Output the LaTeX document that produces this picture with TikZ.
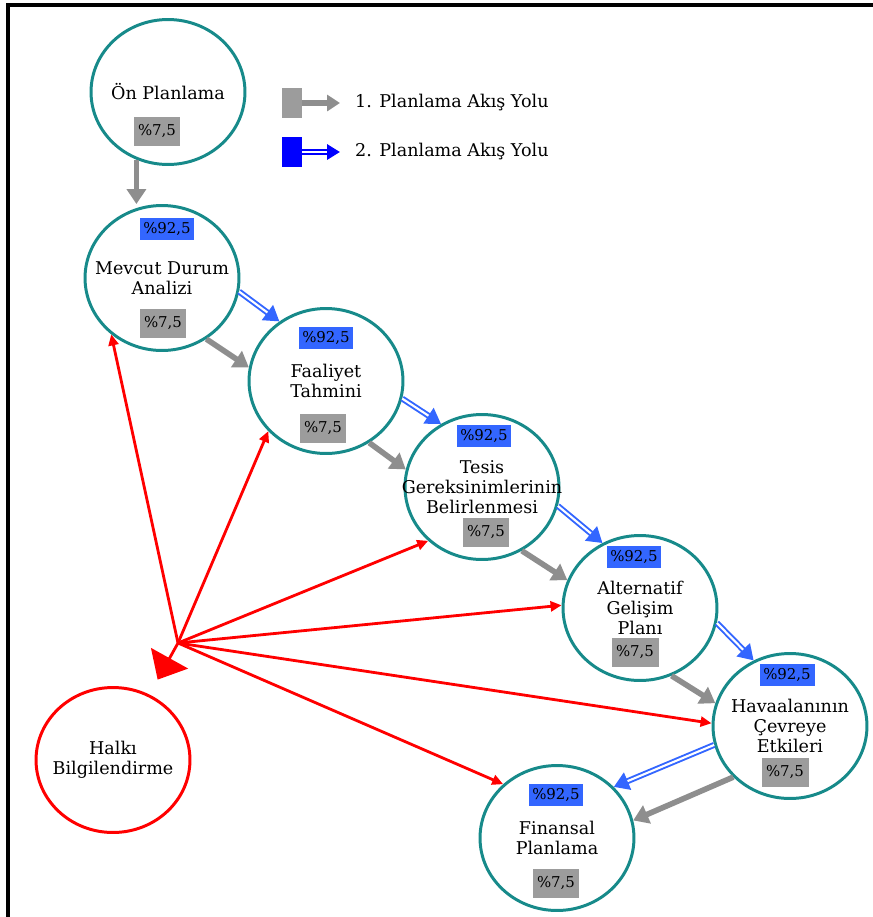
\documentclass[tikz,border=0pt]{standalone}
\usepackage{fontspec}
\setmainfont{DejaVu Serif}
\usepackage{tikz}
\usetikzlibrary{arrows.meta,positioning,shapes.geometric}
\definecolor{pteal}{HTML}{178A8A}
\definecolor{pblue}{HTML}{3366FF}
\definecolor{pgray}{HTML}{9C9C9C}
\definecolor{agray}{HTML}{8E8E8E}

\begin{document}
\begin{tikzpicture}[x=0.02cm,y=-0.02cm,font=\fontsize{10}{11.2}\selectfont,
    stage/.style={ellipse,draw=pteal,line width=1.7pt,minimum width=3.08cm,
                  minimum height=2.9cm,inner sep=0pt},
    pubstage/.style={stage,draw=red},
    lbl/.style={align=center,inner sep=0pt},
    pbox/.style={fill=pblue,minimum width=1.1cm,minimum height=0.44cm,
                 inner sep=0pt,font=\fontsize{8.5}{10}\selectfont},
    gbox/.style={fill=pgray,minimum width=0.94cm,minimum height=0.58cm,
                 inner sep=0pt,font=\fontsize{8.5}{10}\selectfont},
    gflow/.style={draw=agray,line width=3.2pt,-{Triangle[length=0.3cm,width=0.38cm]}},
    bflow/.style={draw=pblue,line width=3.4pt,-{Triangle[length=0.3cm,width=0.36cm]}},
    bgap/.style={draw=white,line width=1.2pt,shorten >=0.3cm},
    rflow/.style={draw=red,line width=1.6pt,-{Triangle[length=0.22cm,width=0.2cm]}}]
  \useasboundingbox (0,0) rectangle (873,917);
  \draw[line width=2pt] (8,917) -- (8,5) -- (873,5);

  % asamalar
  \node[stage] (onplan) at (168,92) {};
  \node[lbl] at (onplan) {Ön Planlama};
  \node[gbox] (onplan-g) at (157,131) {\%7,5};

  \node[stage] (mevcut) at (162,278) {};
  \node[lbl] at (mevcut) {Mevcut Durum\\Analizi};
  \node[pbox] (mevcut-b) at (167,229) {\%92,5};
  \node[gbox] (mevcut-g) at (163,323) {\%7,5};

  \node[stage] (faaliyet) at (326,381) {};
  \node[lbl] at (faaliyet) {Faaliyet\\Tahmini};
  \node[pbox] (faaliyet-b) at (326,338) {\%92,5};
  \node[gbox] (faaliyet-g) at (323,428) {\%7,5};

  \node[stage] (tesis) at (482,487) {};
  \node[lbl] at (tesis) {Tesis\\Gereksinimlerinin\\Belirlenmesi};
  \node[pbox] (tesis-b) at (484,436) {\%92,5};
  \node[gbox] (tesis-g) at (486,532) {\%7,5};

  \node[stage] (alternatif) at (640,608) {};
  \node[lbl] at (alternatif) {Alternatif\\Gelişim\\Planı};
  \node[pbox] (alternatif-b) at (634,557) {\%92,5};
  \node[gbox] (alternatif-g) at (635,652) {\%7,5};

  \node[stage] (havaalani) at (790,726) {};
  \node[lbl] at (havaalani) {Havaalanının\\Çevreye\\Etkileri};
  \node[pbox] (havaalani-b) at (787,675) {\%92,5};
  \node[gbox] (havaalani-g) at (785,772) {\%7,5};

  \node[stage] (finansal) at (557,838) {};
  \node[lbl] at (finansal) {Finansal\\Planlama};
  \node[pbox] (finansal-b) at (556,795) {\%92,5};
  \node[gbox] (finansal-g) at (556,883) {\%7,5};

  \node[pubstage] (halki) at (113,760) {};
  \node[lbl] at (halki) {Halkı\\Bilgilendirme};

  % lejant
  \node[fill=pgray,minimum width=0.4cm,minimum height=0.6cm,inner sep=0pt] (leg1) at (292,103) {};
  \node[fill=blue,minimum width=0.4cm,minimum height=0.6cm,inner sep=0pt] (leg2) at (292,152) {};
  \node[anchor=west] (leg1-t) at (349,103) {1. Planlama Akış Yolu};
  \node[anchor=west] (leg2-t) at (349,152) {2. Planlama Akış Yolu};
  \draw[gflow,shorten >=0.18cm,-{Triangle[length=0.26cm,width=0.32cm]}] (leg1) -- (leg1-t);
  \draw[bflow,draw=blue,shorten >=0.18cm,-{Triangle[length=0.26cm,width=0.3cm]}] (leg2) -- (leg2-t);
  \draw[bgap,shorten >=0.44cm] (leg2) -- (leg2-t);

  % 1. akis yolu
  \draw[gflow] (onplan.245) -- (onplan.245 |- mevcut.north);
  \foreach \s/\a/\t/\b in {mevcut/-54/faaliyet/170, faaliyet/-55/tesis/167,
      tesis/-58/alternatif/159, alternatif/-65/havaalani/163, havaalani/222/finansal/13}
    \draw[gflow] (\s.\a) -- (\t.\b);

  % 2. akis yolu
  \foreach \s/\a/\t/\b in {mevcut/-10/faaliyet/128, faaliyet/-13/tesis/123,
      tesis/-14/alternatif/120, alternatif/-11/havaalani/119, havaalani/194/finansal/42}{
    \draw[bflow] (\s.\a) -- (\t.\b);
    \draw[bgap] (\s.\a) -- (\t.\b);
  }

  % halki bilgilendirme
  \coordinate (hub) at (178,643);
  \foreach \t/\b in {mevcut/228, faaliyet/221, tesis/225, alternatif/178,
      havaalani/178, finansal/135}
    \draw[rflow] (hub) -- (\t.\b);
  \draw[rflow,-{Triangle[length=0.49cm,width=0.84cm]},shorten >=0.34cm] (hub) -- (halki);
\end{tikzpicture}
\end{document}
